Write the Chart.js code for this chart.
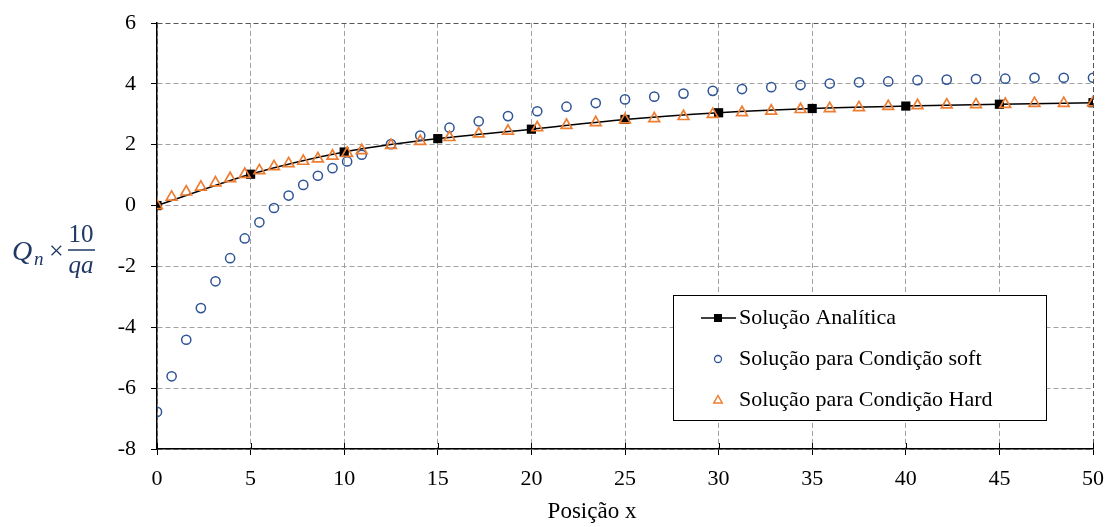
<!DOCTYPE html>
<html>
<head>
<meta charset="utf-8">
<script src="https://cdn.jsdelivr.net/npm/chart.js@4/dist/chart.umd.min.js"></script>
<style>
  html, body { margin: 0; padding: 0; background: #fff; }
  #wrap { width: 1106px; height: 527px; }
</style>
</head>
<body>
<div id="wrap"><canvas id="myChart" width="1106" height="527"></canvas></div>
<script>
// posições x das soluções numéricas
const xNum = [0, 0.78125, 1.5625, 2.34375, 3.125, 3.90625, 4.6875, 5.46875, 6.25, 7.03125,
	7.8125, 8.59375, 9.375, 10.15625, 10.9375, 12.5, 14.0625, 15.625, 17.1875, 18.75,
	20.3125, 21.875, 23.4375, 25, 26.5625, 28.125, 29.6875, 31.25, 32.8125, 34.375,
	35.9375, 37.5, 39.0625, 40.625, 42.1875, 43.75, 45.3125, 46.875, 48.4375, 50]
const ySoft = [-6.78, -5.61, -4.41, -3.37, -2.49, -1.73, -1.08, -0.55, -0.08, 0.33,
	0.68, 0.98, 1.23, 1.45, 1.67, 2.02, 2.30, 2.56, 2.77, 2.94,
	3.10, 3.25, 3.37, 3.49, 3.58, 3.68, 3.77, 3.83, 3.89, 3.96,
	4.01, 4.05, 4.08, 4.12, 4.14, 4.16, 4.17, 4.20, 4.20, 4.20]
const yHard = [0, 0.28, 0.45, 0.61, 0.75, 0.89, 1.03, 1.15, 1.28, 1.38,
	1.46, 1.54, 1.63, 1.72, 1.81, 1.98, 2.11, 2.24, 2.36, 2.45,
	2.56, 2.64, 2.73, 2.82, 2.86, 2.93, 3.00, 3.06, 3.11, 3.16,
	3.19, 3.22, 3.26, 3.29, 3.31, 3.32, 3.33, 3.36, 3.36, 3.38]
// solução analítica
const xAna = [0, 5, 10, 15, 20, 25, 30, 35, 40, 45, 50]
const yAna = [0, 1.03, 1.76, 2.20, 2.51, 2.83, 3.05, 3.19, 3.27, 3.33, 3.38]

const labels = ['Solução Analítica', 'Solução para Condição soft', 'Solução para Condição Hard']

const BLUE = '#2f5597'
const ORANGE = '#ed7d31'
const SERIF = "'Liberation Serif', 'Times New Roman', serif"

const pts = (xs, ys) => xs.map((x, i) => ({ x: x, y: ys[i] }))

// legenda dentro da área do gráfico, com moldura
const boxLegend = {
	id: 'boxLegend',
	afterDraw(chart) {
		const ctx = chart.ctx
		const bx = 673, by = 295, bw = 373, bh = 125
		ctx.save()
		ctx.fillStyle = '#fff'
		ctx.fillRect(bx, by, bw, bh)
		ctx.strokeStyle = '#000'
		ctx.lineWidth = 1
		ctx.strokeRect(bx + 0.5, by + 0.5, bw, bh)
		const rows = [318, 359, 400]
		const sx = 718
		// linha + quadrado
		ctx.lineWidth = 1.5
		ctx.beginPath()
		ctx.moveTo(701, rows[0])
		ctx.lineTo(736, rows[0])
		ctx.stroke()
		ctx.fillStyle = '#000'
		ctx.fillRect(sx - 4, rows[0] - 4, 8, 8)
		// círculo
		ctx.strokeStyle = BLUE
		ctx.lineWidth = 1.3
		ctx.beginPath()
		ctx.arc(sx, rows[1], 3.5, 0, Math.PI * 2)
		ctx.stroke()
		// triângulo
		ctx.strokeStyle = ORANGE
		ctx.lineWidth = 1.5
		ctx.beginPath()
		ctx.moveTo(sx, rows[2] - 4.5)
		ctx.lineTo(sx + 4.2, rows[2] + 3)
		ctx.lineTo(sx - 4.2, rows[2] + 3)
		ctx.closePath()
		ctx.stroke()
		ctx.fillStyle = '#000'
		ctx.font = '22px ' + SERIF
		ctx.textBaseline = 'middle'
		ctx.textAlign = 'left'
		labels.forEach((t, i) => ctx.fillText(t, 739, rows[i]))
		ctx.restore()
	},
}

// rótulo do eixo y, título do eixo x e marcas que cruzam o eixo x
const axisText = {
	id: 'axisText',
	afterDraw(chart) {
		const ctx = chart.ctx
		const xs = chart.scales.x
		ctx.save()
		ctx.strokeStyle = '#000'
		ctx.lineWidth = 1
		xs.ticks.forEach((t) => {
			const px = Math.round(xs.getPixelForValue(t.value)) + 0.5
			ctx.beginPath()
			ctx.moveTo(px, xs.top - 6)
			ctx.lineTo(px, xs.top)
			ctx.stroke()
		})
		ctx.fillStyle = '#000'
		ctx.font = '23px ' + SERIF
		ctx.textAlign = 'center'
		ctx.textBaseline = 'alphabetic'
		ctx.fillText('Posição x', 592, 518)

		const c = '#1f3864'
		ctx.fillStyle = c
		ctx.strokeStyle = c
		ctx.textAlign = 'left'
		ctx.font = 'italic 28px ' + SERIF
		ctx.fillText('Q', 12, 260)
		ctx.font = 'italic 19px ' + SERIF
		ctx.fillText('n', 34, 265)
		ctx.font = '26px ' + SERIF
		ctx.fillText('×', 49, 259)
		ctx.textAlign = 'center'
		ctx.font = '25px ' + SERIF
		ctx.fillText('10', 81, 242)
		ctx.font = 'italic 25px ' + SERIF
		ctx.fillText('qa', 81, 273)
		ctx.lineWidth = 1.5
		ctx.beginPath()
		ctx.moveTo(68, 250)
		ctx.lineTo(95, 250)
		ctx.stroke()
		ctx.restore()
	},
}

const gridColor = (edge) => (c) => (c.tick && c.tick.value === edge ? '#555' : '#a0a0a0')

// tamanho fixo dos eixos, sem folga extra dos rótulos
const noPad = (s) => {
	s.paddingTop = 0
	s.paddingBottom = 0
	s.paddingLeft = 0
	s.paddingRight = 0
}

const config = {
	type: 'scatter',
	data: {
		datasets: [
			{
				label: labels[0],
				data: pts(xAna, yAna),
				showLine: true,
				borderColor: '#000',
				borderWidth: 1.5,
				backgroundColor: '#000',
				pointStyle: 'rect',
				pointRadius: 6.5,
				pointBorderWidth: 0,
				cubicInterpolationMode: 'monotone',
				order: 3,
			},
			{
				label: labels[1],
				data: pts(xNum, ySoft),
				showLine: false,
				borderColor: BLUE,
				backgroundColor: 'rgba(0,0,0,0)',
				pointStyle: 'circle',
				pointRadius: 4.6,
				pointBorderWidth: 1.5,
				order: 2,
			},
			{
				label: labels[2],
				data: pts(xNum, yHard),
				showLine: false,
				borderColor: ORANGE,
				backgroundColor: 'rgba(0,0,0,0)',
				pointStyle: 'triangle',
				pointRadius: 6.2,
				pointBorderWidth: 1.7,
				order: 1,
			},
		],
	},
	options: {
		responsive: false,
		animation: false,
		layout: { autoPadding: false, padding: { top: 23, right: 13, left: 0, bottom: 0 } },
		plugins: {
			legend: { display: false },
			tooltip: { enabled: false },
		},
		scales: {
			x: {
				type: 'linear',
				min: 0,
				max: 50,
				afterFit: (s) => { s.height = 78; noPad(s) },
				ticks: { stepSize: 5, color: '#000', font: { family: SERIF, size: 22 }, padding: 11, maxRotation: 0 },
				grid: { color: gridColor(50), lineWidth: 1, tickColor: '#000', tickLength: 6, tickBorderDash: [] },
				border: { display: true, color: '#000', width: 1.5, dash: [5, 3] },
			},
			y: {
				min: -8,
				max: 6,
				afterFit: (s) => { s.width = 157; noPad(s) },
				ticks: { stepSize: 2, color: '#000', font: { family: SERIF, size: 22 }, padding: 15 },
				grid: { color: gridColor(6), lineWidth: 1, tickColor: '#000', tickLength: 6, tickBorderDash: [] },
				border: { display: true, color: '#000', width: 1.5, dash: [5, 3] },
			},
		},
	},
	plugins: [boxLegend, axisText],
}

const myChart = new Chart(document.getElementById('myChart'), config)
</script>
</body>
</html>
